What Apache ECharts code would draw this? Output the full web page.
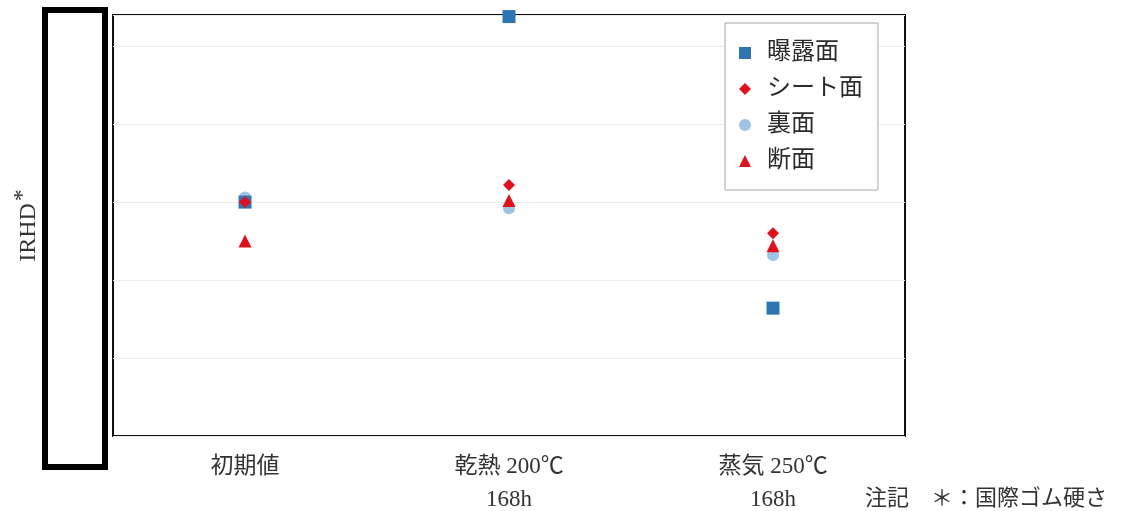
<!DOCTYPE html>
<html>
<head>
<meta charset="utf-8">
<script src="https://cdn.jsdelivr.net/npm/echarts@6/dist/echarts.min.js"></script>
<style>
  html, body { margin: 0; padding: 0; background: #fff; }
  #chart { width: 1127px; height: 511px; }
</style>
</head>
<body>
<div id="chart"></div>
<script>
// Test conditions on the category axis
const categories = ['初期値', '乾熱 200℃\n168h', '蒸気 250℃\n168h'];

// Hardness readings (IRHD) for each measured face
const exposedFace  = [65.0, 76.9, 58.2];   // 曝露面
const sheetFace    = [65.0, 66.1, 63.0];   // シート面
const backFace     = [65.3, 64.6, 61.6];   // 裏面
const crossSection = [62.5, 65.1, 62.2];   // 断面

const seriesNames = ['曝露面', 'シート面', '裏面', '断面'];

// Value axis range
const yMin = 50;
const yMax = 77;
const yStep = 5;

const axisTitle = '{a|IRHD}{b|*}';
const noteText = '注記　＊：国際ゴム硬さ';

const serif = "'Liberation Serif', 'Noto Sans CJK JP', serif";
const sans = "'Noto Sans CJK JP', sans-serif";

const chart = echarts.init(document.getElementById('chart'), null, { renderer: 'canvas' });

function scatter(name, data, symbol, size, color, z) {
  return {
    name: name,
    type: 'scatter',
    data: data,
    symbol: symbol,
    symbolSize: size,
    z: z,
    itemStyle: { color: color, opacity: 1 },
    emphasis: { disabled: true }
  };
}

chart.setOption({
  animation: false,
  backgroundColor: '#ffffff',
  grid: {
    left: 113, top: 15, right: 222, bottom: 75,
    outerBoundsMode: 'none',
    containLabel: false,
    show: true,
    borderColor: '#111111',
    borderWidth: 2,
    backgroundColor: 'transparent'
  },
  legend: {
    orient: 'vertical',
    left: 725,
    top: 23,
    padding: [12, 15, 11, 14],
    itemWidth: 12,
    itemHeight: 12,
    itemGap: 0,
    borderColor: '#a8a8a8',
    borderWidth: 1,
    backgroundColor: '#ffffff',
    data: seriesNames,
    textStyle: {
      fontFamily: serif,
      fontSize: 24,
      lineHeight: 24,
      color: '#2b2b2b',
      padding: [12, 0, 0, 11]
    }
  },
  xAxis: {
    type: 'category',
    data: categories,
    boundaryGap: true,
    axisLine: { show: false },
    axisTick: { show: false },
    splitLine: { show: false },
    axisLabel: {
      fontFamily: serif,
      fontSize: 23,
      lineHeight: 33,
      color: '#333333',
      margin: 14
    }
  },
  yAxis: {
    type: 'value',
    min: yMin,
    max: yMax,
    interval: yStep,
    axisLine: { show: false },
    axisTick: { show: false },
    axisLabel: { show: false },
    splitLine: { lineStyle: { color: '#ebebeb', width: 1 } },
    name: axisTitle,
    nameLocation: 'middle',
    nameGap: 72,
    nameRotate: 90,
    nameTextStyle: {
      fontFamily: serif,
      color: '#333333',
      rich: {
        a: { fontFamily: serif, fontSize: 24, lineHeight: 30, color: '#333333', verticalAlign: 'bottom' },
        b: { fontFamily: serif, fontSize: 24, lineHeight: 30, color: '#333333', verticalAlign: 'top', padding: [0, 0, 10, 2] }
      }
    }
  },
  series: [
    scatter(seriesNames[2], backFace, 'circle', 12, '#9dc3e6', 2),
    scatter(seriesNames[0], exposedFace, 'rect', 13, '#2e75b6', 3),
    scatter(seriesNames[1], sheetFace, 'diamond', 12, '#e3101b', 4),
    scatter(seriesNames[3], crossSection, 'triangle', 13, '#e3101b', 5)
  ],
  graphic: [
    {
      type: 'rect',
      left: 42,
      top: 7,
      z: 100,
      shape: { width: 60, height: 457 },
      style: { fill: '#ffffff', stroke: '#000000', lineWidth: 6 }
    },
    {
      type: 'text',
      left: 865,
      top: 486,
      z: 100,
      style: { text: noteText, font: '22px ' + sans, fill: '#333333' }
    }
  ]
});
</script>
</body>
</html>
